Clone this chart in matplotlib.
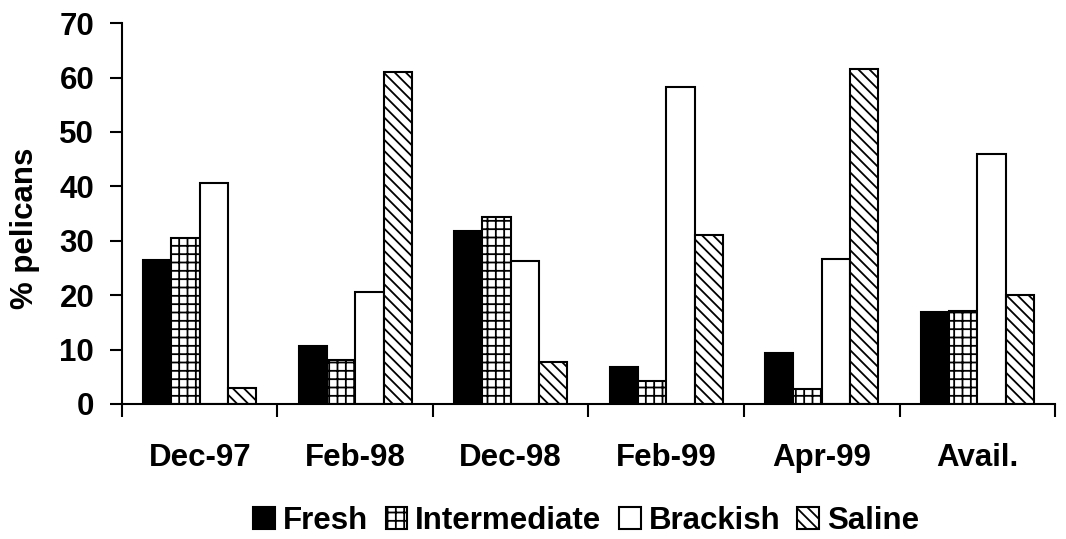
import matplotlib
matplotlib.use("Agg")
import matplotlib.pyplot as plt
import numpy as np

categories = ["Dec-97", "Feb-98", "Dec-98", "Feb-99", "Apr-99", "Avail."]
series_names = ["Fresh", "Intermediate", "Brackish", "Saline"]
fresh = [26.4, 10.7, 31.8, 6.8, 9.3, 16.9]
intermediate = [30.5, 8.0, 34.4, 4.3, 2.7, 17.1]
brackish = [40.6, 20.6, 26.3, 58.3, 26.6, 46.0]
saline = [3.0, 61.0, 7.8, 31.0, 61.5, 20.0]
yticks = [0, 10, 20, 30, 40, 50, 60, 70]

plt.rcParams['font.family'] = ['Liberation Sans', 'DejaVu Sans']
plt.rcParams['hatch.linewidth'] = 1.3

FS = 22.5
fig = plt.figure(figsize=(10.66, 5.39), dpi=100)
ax = fig.add_axes([0.1144, 0.2505, 0.8753, 0.7065])

styles = [
    dict(color='black', edgecolor='black', hatch=None),
    dict(color='white', edgecolor='black', hatch='++'),
    dict(color='white', edgecolor='black', hatch=None),
    dict(color='white', edgecolor='black', hatch='\\\\\\'),
]
data = [fresh, intermediate, brackish, saline]
x = np.arange(len(categories))
w = 0.182
for k, (vals, st, name) in enumerate(zip(data, styles, series_names)):
    ax.bar(x + (k - 1.5) * w, vals, width=w, label=name, linewidth=1.5, **st)

ax.set_xlim(-0.5, len(categories) - 0.5)
ax.set_ylim(0, 70)
ax.set_yticks(yticks)
ax.set_yticklabels([str(v) for v in yticks], fontsize=FS, fontweight='bold')
ax.set_xticks(x)
ax.set_xticklabels(categories, fontsize=FS, fontweight='bold')
ax.tick_params(axis='x', which='major', length=0, pad=28)
ax.set_xticks(np.arange(len(categories) + 1) - 0.5, minor=True)
ax.tick_params(axis='x', which='minor', length=9, width=1.5, direction='out')
ax.tick_params(axis='y', length=9, width=1.5, direction='out', pad=11)
ax.spines['top'].set_visible(False)
ax.spines['right'].set_visible(False)
ax.spines['left'].set_linewidth(1.5)
ax.spines['bottom'].set_linewidth(1.5)
ax.set_ylabel('% pelicans', fontsize=FS, fontweight='bold')
ax.yaxis.set_label_coords(-0.088, 0.46)

fig.legend(loc='center', bbox_to_anchor=(0.55, 1 - 521 / 539), ncol=4, frameon=False,
           prop={'size': FS, 'weight': 'bold'}, handlelength=0.7, handleheight=0.7,
           handletextpad=0.25, columnspacing=0.55, borderpad=0, borderaxespad=0)

fig.savefig('out.png', dpi=100)
